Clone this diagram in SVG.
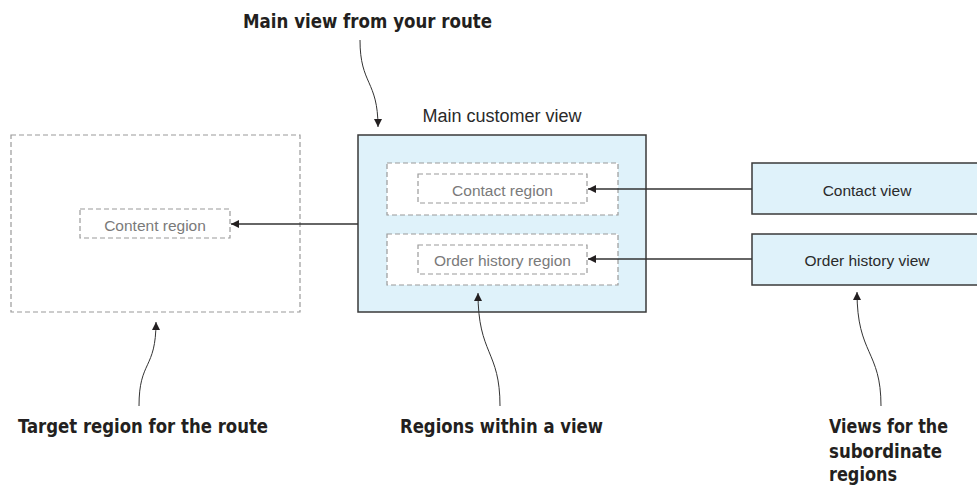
<svg xmlns="http://www.w3.org/2000/svg" width="977" height="486" viewBox="0 0 977 486">
<style>
.view{fill:#dff2fa;stroke:#3a3a3a;stroke-width:1.5}
.dash{fill:#ffffff;stroke:#9a9a9a;stroke-width:1.2;stroke-dasharray:5 3}
.dash0{fill:none;stroke:#9a9a9a;stroke-width:1.2;stroke-dasharray:5 3}
.lbl{font-family:"Liberation Sans",Arial,sans-serif;fill:#2a2a2a;text-anchor:middle}
.rlbl{font-family:"Liberation Sans",Arial,sans-serif;fill:#7a7a7a;font-size:15.5px;text-anchor:middle}
.cap{font-family:"DejaVu Sans Condensed","DejaVu Sans",sans-serif;font-weight:bold;fill:#231f20;font-size:20px}
.conn{fill:none;stroke:#333;stroke-width:1.3}
.call{fill:none;stroke:#333;stroke-width:1}
</style>
<defs>
<marker id="ah" viewBox="0 0 10 10" refX="10" refY="5" markerWidth="9" markerHeight="8" markerUnits="userSpaceOnUse" orient="auto">
<path d="M0,0 L10,5 L0,10 z" fill="#231f20"/>
</marker>
</defs>
<g id="target-region">
<rect class="dash0" x="11" y="135" width="289" height="177"/>
</g>
<g id="content-region">
<rect class="dash" x="80" y="209" width="150" height="29"/>
<text class="rlbl" x="155" y="231">Content region</text>
</g>
<g id="main-customer-view">
<text class="lbl" x="502" y="122" font-size="18">Main customer view</text>
<rect class="view" x="358" y="135" width="288" height="177"/>
</g>
<g id="contact-slot">
<rect class="dash" x="387" y="163" width="231" height="52"/>
</g>
<g id="order-slot">
<rect class="dash" x="387" y="234" width="231" height="51"/>
</g>
<g id="contact-region">
<rect class="dash" x="418" y="174" width="169" height="29"/>
<text class="rlbl" x="502.5" y="196">Contact region</text>
</g>
<g id="order-history-region">
<rect class="dash" x="418" y="245" width="169" height="29"/>
<text class="rlbl" x="502.5" y="266">Order history region</text>
</g>
<g id="contact-view">
<rect class="view" x="752" y="163" width="232" height="51"/>
<text class="lbl" x="867" y="196" font-size="15.5">Contact view</text>
</g>
<g id="order-history-view">
<rect class="view" x="752" y="234" width="232" height="51"/>
<text class="lbl" x="867" y="266" font-size="15.5">Order history view</text>
</g>
<g id="captions">
<text class="cap" x="243" y="28" textLength="249" lengthAdjust="spacingAndGlyphs">Main view from your route</text>
<text class="cap" x="18" y="433" textLength="250" lengthAdjust="spacingAndGlyphs">Target region for the route</text>
<text class="cap" x="400" y="433" textLength="203" lengthAdjust="spacingAndGlyphs">Regions within a view</text>
<text class="cap" x="829" y="433" textLength="119" lengthAdjust="spacingAndGlyphs">Views for the</text>
<text class="cap" x="829" y="458" textLength="113" lengthAdjust="spacingAndGlyphs">subordinate</text>
<text class="cap" x="829" y="481" textLength="68" lengthAdjust="spacingAndGlyphs">regions</text>
</g>
<g id="connectors">
<path class="conn" d="M358,224 L231,224" marker-end="url(#ah)"/>
<path class="conn" d="M752,189 L588,189" marker-end="url(#ah)"/>
<path class="conn" d="M752,259 L588,259" marker-end="url(#ah)"/>
<path class="call" d="M360,40 C360,85 378,80 378,127" marker-end="url(#ah)"/>
<path class="call" d="M139,406 C139,360 156,370 156,322" marker-end="url(#ah)"/>
<path class="call" d="M500,406 C500,350 478,355 478,293" marker-end="url(#ah)"/>
<path class="call" d="M881,406 C881,350 857,355 857,292" marker-end="url(#ah)"/>
</g>
</svg>
